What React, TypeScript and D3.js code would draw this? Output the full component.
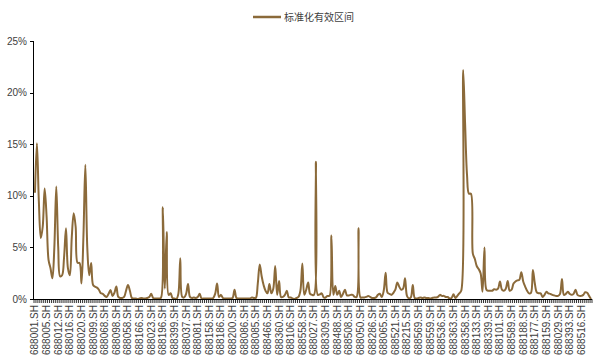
import React from 'react'
import * as d3 from 'd3'

// 标准化有效区间, one value (%) per stock
const values: number[] = [
  10.3, 15.1, 9.5, 5.9, 7.0, 10.7, 8.0, 3.8, 3.0, 2.0,
  5.0, 10.9, 5.0, 2.2, 2.3, 4.0, 6.85, 3.0, 2.3, 6.0,
  8.3, 7.0, 3.5, 3.5, 1.5, 6.0, 13.0, 5.0, 2.3, 3.5,
  1.35, 1.2, 1.1, 0.9, 0.55, 0.5, 0.3, 0.2, 0.5, 0.87,
  0.3, 0.6, 1.2, 0.2, 0.1, 0.1, 0.2, 0.8, 1.35, 0.8,
  0.1, 0.05, 0.05, 0.0, 0.05, 0.1, 0.05, 0.05, 0.1, 0.2,
  0.5, 0.1, 0.05, 0.05, 0.05, 0.1, 8.9, 1.0, 6.5, 0.4,
  0.55, 0.1, 0.05, 0.0, 0.5, 3.95, 0.2, 0.15, 0.5, 1.45,
  0.2, 0.1, 0.15, 0.1, 0.2, 0.5, 0.05, 0.05, 0.05, 0.05,
  0.05, 0.05, 0.1, 0.5, 1.5, 0.2, 0.4, 0.1, 0.05, 0.05,
  0.05, 0.05, 0.1, 0.9, 0.1, 0.05, 0.05, 0.05, 0.05, 0.05,
  0.05, 0.05, 0.15, 0.1, 0.1, 1.5, 3.35, 2.2, 1.35, 0.8,
  0.55, 1.45, 0.55, 1.0, 3.2, 0.4, 1.75, 0.2, 0.2, 0.4,
  0.8, 0.15, 0.15, 0.05, 0.0, 0.1, 0.2, 0.8, 3.45, 0.4,
  0.9, 1.6, 0.5, 0.4, 0.4, 13.3, 0.4, 0.45, 0.55, 0.15,
  0.15, 0.3, 0.3, 6.15, 0.4, 1.25, 0.4, 0.8, 0.2, 0.5,
  0.9, 0.35, 0.35, 0.4, 0.4, 0.2, 0.2, 6.85, 0.15, 0.15,
  0.15, 0.2, 0.3, 0.2, 0.1, 0.1, 0.15, 0.4, 0.5, 0.2,
  0.8, 2.55, 0.6, 0.5, 0.4, 0.6, 0.9, 1.6, 1.2, 0.9,
  1.0, 2.0, 0.3, 0.05, 0.15, 1.35, 0.1, 0.05, 0.1, 0.15,
  0.1, 0.15, 0.1, 0.1, 0.05, 0.1, 0.15, 0.15, 0.2, 0.4,
  0.3, 0.3, 0.2, 0.2, 0.05, 0.1, 0.45, 0.1, 0.3, 0.55,
  0.8, 22.2, 17.0, 12.0, 10.2, 10.2, 4.4, 3.9, 3.2, 2.9,
  2.5, 0.7, 5.0, 0.9, 0.8, 0.8, 0.8, 0.95, 0.9, 1.0,
  1.7, 0.9, 0.8, 1.0, 1.75, 0.8, 0.9, 1.5, 1.7, 1.8,
  1.85, 2.6, 1.7, 1.2, 0.8, 0.55, 0.6, 2.8, 1.5, 0.65,
  0.55, 0.55, 0.2, 0.4, 0.7, 0.55, 0.5, 0.4, 0.35, 0.3,
  0.3, 0.5, 1.95, 0.4, 0.5, 0.7, 0.5, 0.4, 0.5, 0.9,
  0.4, 0.3, 0.3, 0.4, 0.65, 0.6, 0.3, 0.0,
]

// only every 6th stock gets a label on the axis
const tickLabels: string[] = [
  '688001.SH', '688005.SH', '688012.SH', '688016.SH', '688020.SH', '688099.SH',
  '688068.SH', '688098.SH', '688058.SH', '688166.SH', '688023.SH', '688196.SH',
  '688399.SH', '688037.SH', '688081.SH', '688158.SH', '688186.SH', '688200.SH',
  '688086.SH', '688085.SH', '688466.SH', '688360.SH', '688106.SH', '688558.SH',
  '688027.SH', '688309.SH', '688488.SH', '688508.SH', '688050.SH', '688286.SH',
  '688065.SH', '688521.SH', '688215.SH', '688569.SH', '688559.SH', '688536.SH',
  '688363.SH', '688358.SH', '688133.SH', '688339.SH', '688101.SH', '688589.SH',
  '688188.SH', '688177.SH', '688159.SH', '688029.SH', '688393.SH', '688516.SH',
]
const labelEvery = 6
const yTicks = [0, 5, 10, 15, 20, 25]
const seriesName = '标准化有效区间'

const W = 606
const H = 362
const left = 34
const right = 592
const top = 41
const bottom = 299
const lineColor = '#8b6a3a'
const textColor = '#404040'

export default function App() {
  const idx = values.map((_, i) => i)
  const x = d3.scaleBand<number>().domain(idx).range([left, right])
  const y = d3.scaleLinear().domain([0, 25]).range([bottom, top])
  const cx = (i: number) => (x(i) as number) + x.bandwidth() / 2

  const line = d3.line<number>()
    .x((_, i) => cx(i))
    .y(d => y(d))
    .curve(d3.curveCatmullRom.alpha(0.5))

  const tickXs = idx.map(i => x(i) as number).concat([right])

  return (
    <svg width={W} height={H} style={{ position: 'absolute', left: 0, top: 0, background: '#fff' }}
      fontFamily="'Liberation Sans', Arial, sans-serif">
      {/* legend */}
      <line x1={253} x2={281} y1={17} y2={17} stroke={lineColor} strokeWidth={2.5} />
      <text x={284} y={20.5} fontSize={10} fill={textColor}
        fontFamily="'Noto Sans CJK SC', sans-serif">{seriesName}</text>

      {/* y axis */}
      <line x1={left - 0.5} x2={left - 0.5} y1={top} y2={bottom} stroke="#000" strokeWidth={1} />
      {yTicks.map(t => (
        <g key={t}>
          <line x1={left - 4} x2={left} y1={Math.round(y(t)) + 0.5} y2={Math.round(y(t)) + 0.5} stroke="#000" />
          <text x={left - 7} y={y(t) + 3.5} fontSize={10} textAnchor="end" fill={textColor}>{t}%</text>
        </g>
      ))}

      {/* series */}
      <path d={line(values) || ''} fill="none" stroke={lineColor} strokeWidth={2} strokeLinejoin="round" />

      {/* x axis */}
      <line x1={left - 1} x2={right} y1={bottom + 0.5} y2={bottom + 0.5} stroke="#000" />
      {tickXs.map((tx, i) => (
        <line key={i} x1={tx} x2={tx} y1={bottom} y2={bottom + 4} stroke="#000" strokeWidth={0.8} />
      ))}
      {tickLabels.map((lab, k) => {
        const tx = cx(k * labelEvery)
        return (
          <text key={lab + k} transform={`translate(${tx + 3.5},${bottom + 6}) rotate(-90)`}
            fontSize={10} textAnchor="end" fill={textColor}>{lab}</text>
        )
      })}
    </svg>
  )
}
